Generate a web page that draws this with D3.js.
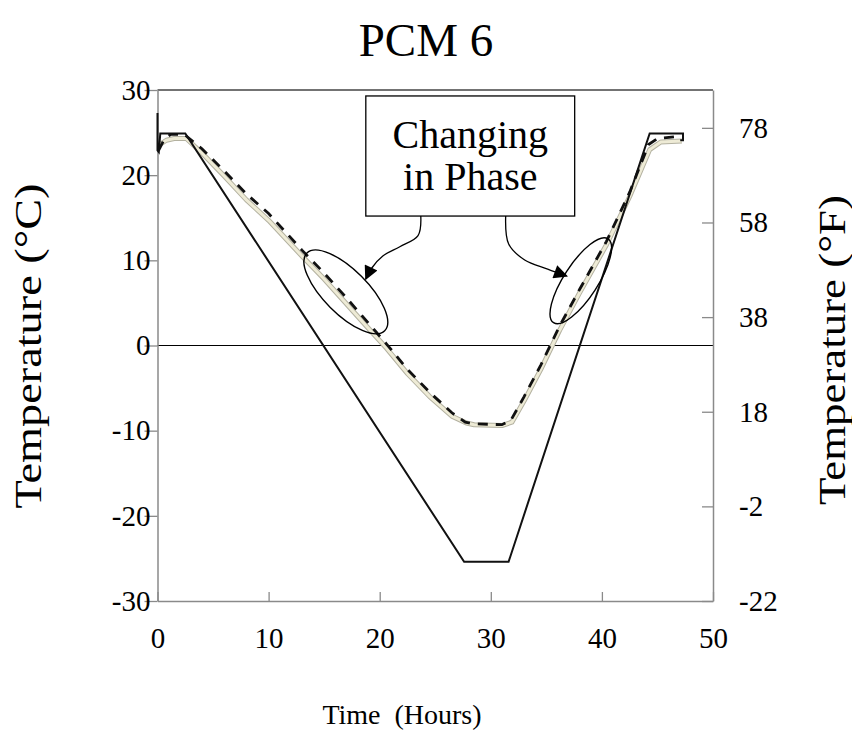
<!DOCTYPE html>
<html>
<head>
<meta charset="utf-8">
<script src="https://cdn.jsdelivr.net/npm/d3@7"></script>
<style>
  html, body { margin: 0; padding: 0; background: #fff; }
  svg { display: block; }
  text { font-family: "Times New Roman", "Liberation Serif", "DejaVu Serif", serif; fill: #000; }
</style>
</head>
<body>
<svg id="chart" width="852" height="731"></svg>
<script>
// ---------- data ----------
const title = "PCM 6";
const xTicks = [0, 10, 20, 30, 40, 50];
const yTicksC = [-30, -20, -10, 0, 10, 20, 30];
const yTicksF = [-22, -2, 18, 38, 58, 78];

// chamber air temperature (solid black) [hours, °C]
const chamber = [[0,27.3],[0.0,22.9],[0.12,22.7],[0.25,24.9],[2.5,24.9],[27.6,-25.4],[31.6,-25.4],[44.3,24.9],[47.3,24.9],[47.3,24.1],[47.05,24.1]];
// PCM temperature (dashed black)
const pcmDashed = [[0.1,22.9],[0.6,24.2],[1.2,24.8],[2.4,24.8],[4,23.1],[6,20.5],[8,17.8],[10,15.5],[13,11.2],[15,8.5],[17,5.6],[19,2.6],[20.6,0.2],[22.5,-2.8],[24.5,-5.5],[26.5,-7.9],[27.7,-9.0],[28.5,-9.2],[31,-9.3],[31.8,-8.8],[33,-6],[34.5,-2.3],[36.2,2.3],[38,6.6],[40.4,12.2],[42.5,18],[44.2,23.6],[45,24.3],[47.2,24.6]];
// PCM temperature (beige)
const pcmBeige = [[0.2,23.6],[0.8,24.1],[1.5,24.3],[2.6,24.3],[4,22.6],[6,19.9],[8,17.1],[10,14.7],[13,10.5],[15,7.8],[17,4.9],[19,2.0],[20.6,-0.3],[22.5,-3.3],[24.5,-6],[26.5,-8.3],[27.8,-9.1],[28.5,-9.3],[31,-9.4],[31.9,-9.0],[33,-6.5],[34.5,-2.8],[36.2,1.8],[38,6.2],[40.4,11.8],[42.5,17.5],[44.3,23.0],[45.3,23.9],[47.2,24.0]];

// annotation (data units)
const noteLines = ["Changing", "in Phase"];
const noteBox = {x0: 18.75, x1: 37.55, y0: 29.3, y1: 15.2};
const leftArrow = [[23.70,15.2],[23.45,12.9],[21.81,11.6],[20.28,10.5],[19.29,9.10],[18.75,7.81]];
const rightArrow = [[31.34,15.2],[31.61,11.91],[33.05,10.04],[35.12,8.98],[36.83,8.16]];
const ellipses = [
  {cx: 16.95, cy: 6.3, rx: 55, ry: 22, angle: 45},
  {cx: 38.1, cy: 7.6, rx: 50, ry: 17, angle: -57}
];

// ---------- layout ----------
const svg = d3.select("#chart");
const m = {left: 157.5, right: 713, top: 90, bottom: 601};
const x = d3.scaleLinear().domain([0, 50]).range([m.left, m.right]);
const y = d3.scaleLinear().domain([-30, 30]).range([m.bottom, m.top]);
const yF = d3.scaleLinear().domain([-22, 86]).range([m.bottom, m.top]);
const axisCol = "#8a8a8a";
const fmt = d => String(d);
const serif = "Times New Roman, Liberation Serif, serif";

// title
svg.append("text").attr("x", 426).attr("y", 56).attr("text-anchor", "middle")
  .style("font-size", "47px").text(title);

// top border
svg.append("line").attr("x1", m.left).attr("x2", m.right).attr("y1", m.top).attr("y2", m.top)
  .attr("stroke", "#444").attr("stroke-width", 1.3);

// zero line
svg.append("line").attr("x1", x(0)).attr("x2", x(50)).attr("y1", y(0)).attr("y2", y(0))
  .attr("stroke", "#000").attr("stroke-width", 1.2);

// left axis
const gL = svg.append("g").attr("transform", `translate(${m.left},0)`)
  .call(d3.axisLeft(y).tickValues(yTicksC).tickSizeInner(13).tickSizeOuter(0).tickPadding(8).tickFormat(fmt));
gL.select(".domain").attr("stroke", axisCol).attr("stroke-width", 1.5);
gL.selectAll(".tick line").attr("stroke", axisCol).attr("stroke-width", 1.3);
gL.selectAll(".tick text").attr("x", -7).style("font-size", "29px").style("font-family", serif).attr("fill", "#000");

// right axis (°F)
const gR = svg.append("g").attr("transform", `translate(${m.right},0)`)
  .call(d3.axisRight(yF).tickValues(yTicksF).tickSizeInner(-11).tickSizeOuter(0).tickPadding(0).tickFormat(fmt));
gR.select(".domain").attr("stroke", axisCol).attr("stroke-width", 1.5);
gR.selectAll(".tick line").attr("stroke", axisCol).attr("stroke-width", 1.3);
gR.selectAll(".tick text").attr("x", 26).style("font-size", "29px").style("font-family", serif).attr("fill", "#000");

// bottom axis
const gB = svg.append("g").attr("transform", `translate(0,${m.bottom})`)
  .call(d3.axisBottom(x).tickValues(xTicks).tickSizeInner(-9).tickSizeOuter(0).tickPadding(0).tickFormat(fmt));
gB.select(".domain").attr("stroke", axisCol).attr("stroke-width", 1.5);
gB.selectAll(".tick line").attr("stroke", axisCol).attr("stroke-width", 1.3);
gB.selectAll(".tick text").attr("y", 26).style("font-size", "29px").style("font-family", serif).attr("fill", "#000");

// axis titles
svg.append("text").attr("x", 402).attr("y", 724).attr("text-anchor", "middle")
  .style("font-size", "28px").attr("xml:space", "preserve").text("Time  (Hours)");
svg.append("text").attr("transform", `translate(41,346) rotate(-90)`).attr("text-anchor", "middle")
  .attr("textLength", 325).attr("lengthAdjust", "spacingAndGlyphs")
  .style("font-size", "37px").text("Temperature (°C)");
svg.append("text").attr("transform", `translate(845,350) rotate(-90)`).attr("text-anchor", "middle")
  .attr("textLength", 310).attr("lengthAdjust", "spacingAndGlyphs")
  .style("font-size", "37px").text("Temperature (°F)");

// series
const line = d3.line().x(d => x(d[0])).y(d => y(d[1]));
svg.append("path").datum(pcmBeige).attr("d", line).attr("fill", "none")
  .attr("stroke", "#b3b1a0").attr("stroke-width", 5).attr("stroke-linejoin", "round");
svg.append("path").datum(pcmBeige).attr("d", line).attr("fill", "none")
  .attr("stroke", "#eeebd6").attr("stroke-width", 3).attr("stroke-linejoin", "round");
svg.append("path").datum(pcmDashed).attr("d", line).attr("fill", "none")
  .attr("stroke", "#111").attr("stroke-width", 2.8).attr("stroke-dasharray", "10,8");
svg.append("path").datum(chamber).attr("d", line).attr("fill", "none")
  .attr("stroke", "#111").attr("stroke-width", 2);

// annotation box
svg.append("rect").attr("x", x(noteBox.x0)).attr("y", y(noteBox.y0))
  .attr("width", x(noteBox.x1) - x(noteBox.x0)).attr("height", y(noteBox.y1) - y(noteBox.y0))
  .attr("fill", "#fff").attr("stroke", "#000").attr("stroke-width", 1.3);
const bcx = (x(noteBox.x0) + x(noteBox.x1)) / 2;
noteLines.forEach((t, i) => {
  svg.append("text").attr("x", bcx).attr("y", y(noteBox.y0) + 52 + i * 42)
    .attr("text-anchor", "middle").style("font-size", "40px").text(t);
});

// arrows
svg.append("defs").append("marker").attr("id", "arr")
  .attr("viewBox", "0 0 10 10").attr("refX", 9).attr("refY", 5)
  .attr("markerWidth", 16).attr("markerHeight", 14).attr("markerUnits", "userSpaceOnUse")
  .attr("orient", "auto")
  .append("path").attr("d", "M0,0 L10,5 L0,10 Z").attr("fill", "#000");
const cl = d3.line().x(d => x(d[0])).y(d => y(d[1])).curve(d3.curveCatmullRom);
[leftArrow, rightArrow].forEach(a => {
  svg.append("path").datum(a).attr("d", cl).attr("fill", "none")
    .attr("stroke", "#000").attr("stroke-width", 1.3).attr("marker-end", "url(#arr)");
});

// ellipses
ellipses.forEach(e => {
  svg.append("ellipse").attr("cx", 0).attr("cy", 0).attr("rx", e.rx).attr("ry", e.ry)
    .attr("transform", `translate(${x(e.cx)},${y(e.cy)}) rotate(${e.angle})`)
    .attr("fill", "none").attr("stroke", "#000").attr("stroke-width", 1.4);
});
</script>
</body>
</html>
